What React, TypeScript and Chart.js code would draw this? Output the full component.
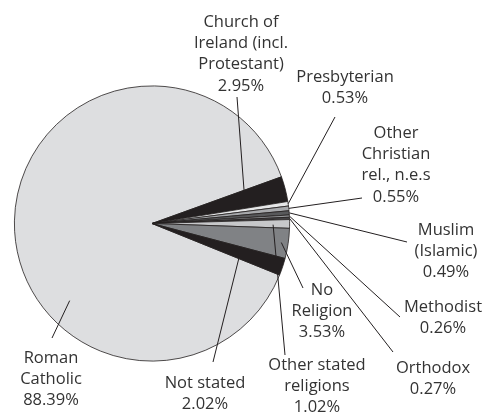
import React, { useEffect, useRef } from "react";
import { Chart, registerables } from "chart.js";

Chart.register(...registerables);

const categories = [
  "Roman Catholic",
  "Church of Ireland (incl. Protestant)",
  "Presbyterian",
  "Other Christian rel., n.e.s",
  "Muslim (Islamic)",
  "Methodist",
  "Orthodox",
  "Other stated religions",
  "No Religion",
  "Not stated",
];
const values = [88.39, 2.95, 0.53, 0.55, 0.49, 0.26, 0.27, 1.02, 3.53, 2.02];
const labelLines = [
  ["Roman", "Catholic", "88.39%"],
  ["Church of", "Ireland (incl.", "Protestant)", "2.95%"],
  ["Presbyterian", "0.53%"],
  ["Other", "Christian", "rel., n.e.s", "0.55%"],
  ["Muslim", "(Islamic)", "0.49%"],
  ["Methodist", "0.26%"],
  ["Orthodox", "0.27%"],
  ["Other stated", "religions", "1.02%"],
  ["No", "Religion", "3.53%"],
  ["Not stated", "2.02%"],
];
const colors = [
  "#dddee0",
  "#231f20",
  "#e6e7e8",
  "#a7a9ac",
  "#58595b",
  "#939598",
  "#414042",
  "#c7c8ca",
  "#808285",
  "#231f20",
];

// label layout: text centre x, first line y, leader outer end, inner anchor (fraction of slice angle, fraction of radius)
const labelX = [51, 241, 345, 396, 446, 443, 433, 317, 322, 205];
const labelY = [358, 22, 77, 133, 230, 307, 368, 365, 290, 383];
const leaderOuter = [
  [52, 338],
  [237, 97],
  [335, 117],
  [362, 198],
  [407, 242],
  [400, 317],
  [393, 352],
  [285, 355],
  [303, 288],
  [213, 362],
];
const leaderInner = [
  [0.361, 0.82],
  [0.03, 0.71],
  [0.5, 1.0],
  [0.5, 1.0],
  [0.5, 1.0],
  [0.5, 1.0],
  [0.5, 1.0],
  [0.6, 0.88],
  [0.5, 0.95],
  [0.97, 0.68],
];

const LINE_H = 21.3;

const labelPlugin = {
  id: "pieLabels",
  afterDraw(chart: any) {
    const ctx = chart.ctx;
    const meta = chart.getDatasetMeta(0);
    ctx.save();
    ctx.strokeStyle = "#231f20";
    ctx.lineWidth = 1;
    meta.data.forEach((arc: any, i: number) => {
      const p = arc.getProps(["x", "y", "startAngle", "endAngle", "outerRadius"], true);
      const a = p.startAngle + (p.endAngle - p.startAngle) * leaderInner[i][0];
      const r = p.outerRadius * leaderInner[i][1];
      const ix = p.x + Math.cos(a) * r;
      const iy = p.y + Math.sin(a) * r;
      ctx.beginPath();
      ctx.moveTo(leaderOuter[i][0], leaderOuter[i][1]);
      ctx.lineTo(ix, iy);
      ctx.stroke();
    });
    ctx.fillStyle = "#333333";
    ctx.font = "16.5px 'Open Sans', sans-serif";
    ctx.textAlign = "center";
    ctx.textBaseline = "middle";
    labelLines.forEach((lines, i) => {
      lines.forEach((t, j) => {
        ctx.fillText(t, labelX[i], labelY[i] + j * LINE_H);
      });
    });
    ctx.restore();
  },
};

export default function App() {
  const ref = useRef<HTMLCanvasElement>(null);
  useEffect(() => {
    const chart = new Chart(ref.current!, {
      type: "pie",
      data: {
        labels: categories,
        datasets: [
          {
            data: values,
            backgroundColor: colors,
            borderColor: "#231f20",
            borderWidth: 0.8,
          },
        ],
      },
      options: {
        animation: false,
        responsive: false,
        rotation: 112,
        layout: { padding: { left: 14, right: 197, top: 85, bottom: 55 } },
        plugins: {
          legend: { display: false },
          tooltip: { enabled: false },
        },
      },
      plugins: [labelPlugin],
    });
    return () => chart.destroy();
  }, []);
  return (
    <div style={{ position: "fixed", left: 0, top: 0, width: 487, height: 417, background: "#fff" }}>
      <canvas ref={ref} width={487} height={417} style={{ width: 487, height: 417 }} />
    </div>
  );
}
